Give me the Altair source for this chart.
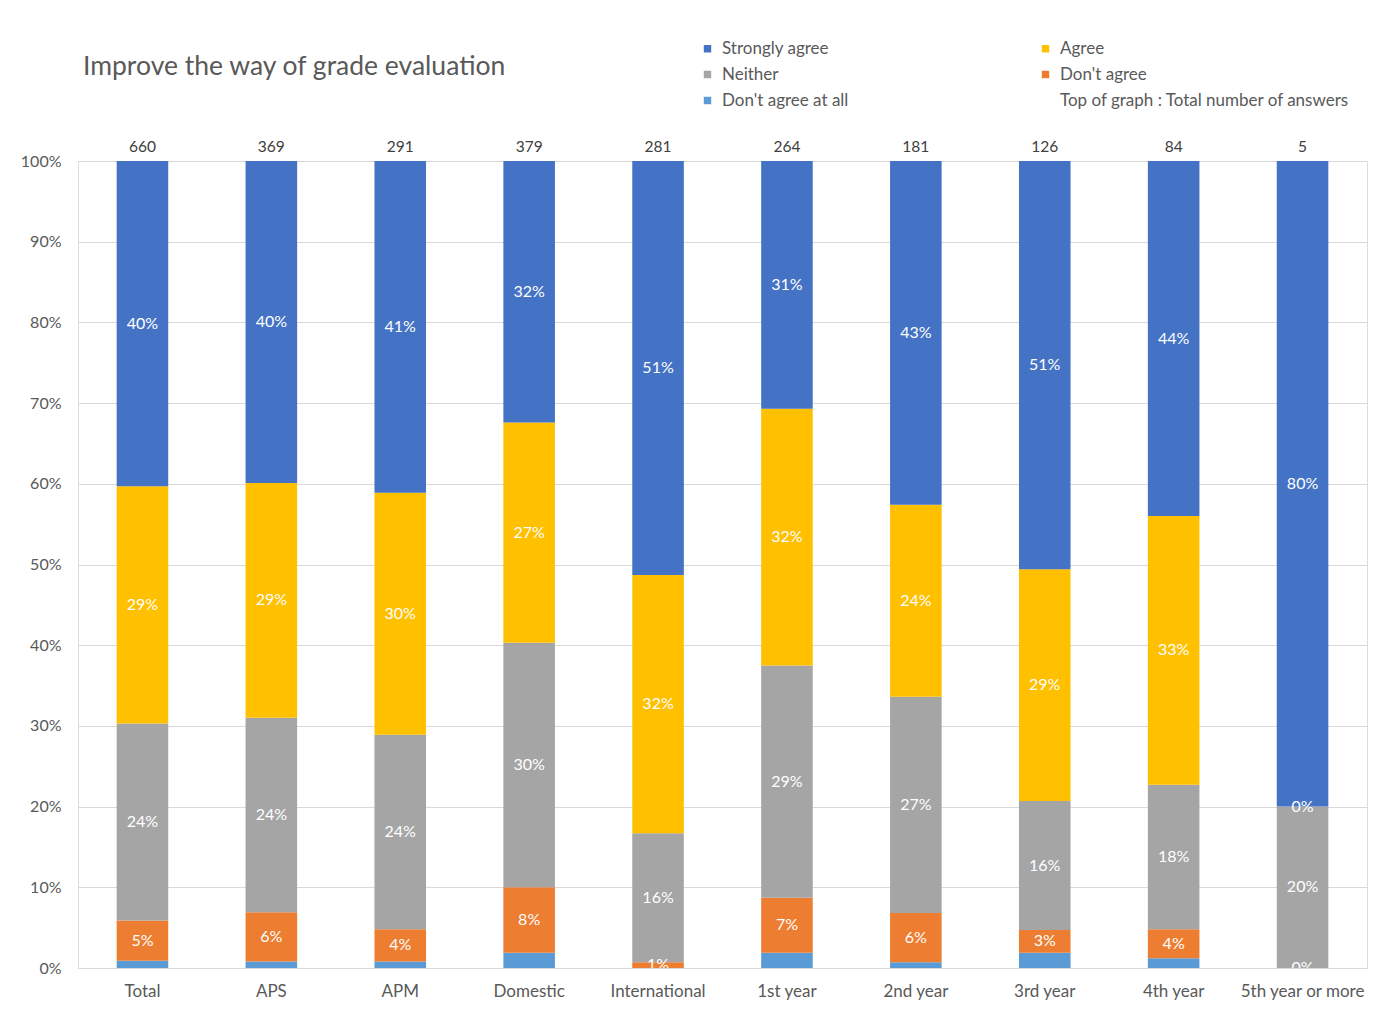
import altair as alt
import pandas as pd

groups = ["Total", "APS", "APM", "Domestic", "International", "1st year",
          "2nd year", "3rd year", "4th year", "5th year or more"]
totals = [660, 369, 291, 379, 281, 264, 181, 126, 84, 5]

dont_agree_at_all = [0.9, 0.8, 0.8, 1.9, 0.0, 1.9, 0.7, 1.9, 1.2, 0.0]
dont_agree = [5.0, 6.1, 4.0, 8.1, 0.7, 6.8, 6.1, 2.8, 3.6, 0.0]
neither = [24.4, 24.1, 24.1, 30.3, 16.0, 28.8, 26.8, 16.0, 17.9, 20.0]
agree = [29.4, 29.1, 30.0, 27.3, 32.0, 31.8, 23.8, 28.7, 33.3, 0.0]
strongly_agree = [40.3, 39.9, 41.1, 32.4, 51.3, 30.7, 42.6, 50.6, 44.0, 80.0]

series_names = ["Don't agree at all", "Don't agree", "Neither", "Agree", "Strongly agree"]
series_values = [dont_agree_at_all, dont_agree, neither, agree, strongly_agree]
note_text = "Top of graph : Total number of answers"

# legend is filled column by column: (SA, Neither, DAAA) | (Agree, DA, note)
legend_order = ["Strongly agree", "Neither", "Don't agree at all",
                "Agree", "Don't agree", note_text]
legend_colors = ["#4472C4", "#A5A5A5", "#5B9BD5", "#FFC000", "#ED7D31", "transparent"]

rows = []
for si, (name, vals) in enumerate(zip(series_names, series_values)):
    for g, v in zip(groups, vals):
        rows.append({"group": g, "series": name, "value": v, "idx": si})
df = pd.DataFrame(rows)
tot_df = pd.DataFrame({"group": groups, "total": totals})

FONT = "Lato"
TXT = "#595959"

x_enc = alt.X("group:N", sort=groups, title=None,
              scale=alt.Scale(paddingInner=0.6, paddingOuter=0.3),
              axis=alt.Axis(labelAngle=0, ticks=False, domainColor="#D9D9D9",
                            labelFontSize=17, labelColor=TXT, labelPadding=15,
                            labelFont=FONT))

y_scale = alt.Scale(domain=[0, 100], nice=False)

bars = alt.Chart(df).mark_bar().encode(
    x=x_enc,
    y=alt.Y("value:Q", stack="zero", scale=y_scale, title=None,
            axis=alt.Axis(values=list(range(0, 101, 10)),
                          labelExpr="datum.value + '%'",
                          ticks=False, domain=False, gridColor="#D9D9D9",
                          labelFontSize=16, labelColor=TXT, labelPadding=17,
                          labelFont=FONT)),
    color=alt.Color("series:N",
                    scale=alt.Scale(domain=legend_order, range=legend_colors),
                    legend=alt.Legend(title=None, orient="none", columns=2,
                                      legendX=621, legendY=-121,
                                      columnPadding=188, rowPadding=8,
                                      symbolType="square", symbolSize=55,
                                      symbolStrokeWidth=0, labelOffset=6,
                                      labelFontSize=17, labelColor=TXT,
                                      labelFont=FONT, labelLimit=400)),
    order=alt.Order("idx:Q", sort="ascending"),
)

labels = alt.Chart(df).transform_window(
    cum="sum(value)", sort=[alt.SortField("idx", order="ascending")],
    groupby=["group"], frame=[None, 0]
).transform_calculate(
    mid="datum.cum - datum.value / 2",
    lab="format(datum.value / 100, '.0%')"
).transform_filter(
    "datum.series != \"Don't agree at all\""
).mark_text(color="white", fontSize=16, font=FONT, clip=True).encode(
    x=alt.X("group:N", sort=groups),
    y=alt.Y("mid:Q", scale=y_scale),
    text="lab:N",
)

tops = alt.Chart(tot_df).mark_text(color="#404040", fontSize=15.5, font=FONT,
                                   baseline="bottom", dy=-6).encode(
    x=alt.X("group:N", sort=groups),
    y=alt.datum(100),
    text="total:Q",
)

chart = alt.layer(bars, labels, tops).properties(
    width=1289, height=807,
    title=alt.TitleParams("Improve the way of grade evaluation", anchor="start",
                          frame="group", fontSize=26.5, font=FONT, color=TXT,
                          fontWeight="normal", offset=60, dx=5, dy=100),
    padding={"left": 70, "top": 153, "right": 14, "bottom": 48},
    autosize=alt.AutoSizeParams(type="none"),
).configure_view(stroke=None).configure(background="white")

chart.save("out.html", embed_options={"renderer": "svg", "actions": False})
